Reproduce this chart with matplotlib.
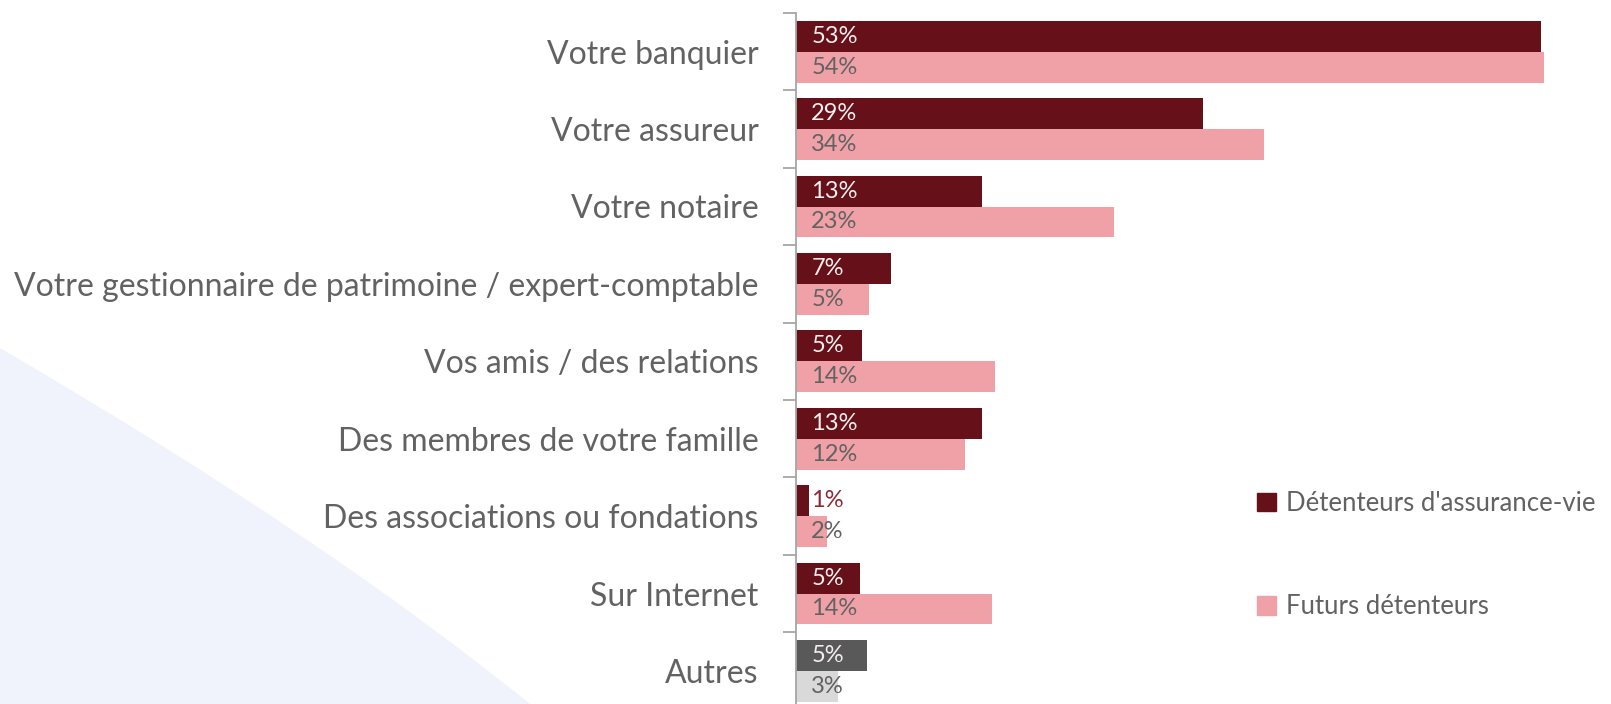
import numpy as np
import matplotlib
matplotlib.use("Agg")
import matplotlib.pyplot as plt
from matplotlib.patches import PathPatch, Patch
from matplotlib.path import Path

# Data
categories = [
    "Votre banquier",
    "Votre assureur",
    "Votre notaire",
    "Votre gestionnaire de patrimoine / expert-comptable",
    "Vos amis / des relations",
    "Des membres de votre famille",
    "Des associations ou fondations",
    "Sur Internet",
    "Autres",
]
holders = [53.2, 29.1, 13.3, 6.8, 4.7, 13.3, 0.95, 4.6, 5.1]
future = [53.4, 33.4, 22.7, 5.2, 14.2, 12.1, 2.2, 14.0, 3.0]
holders_labels = ["53%", "29%", "13%", "7%", "5%", "13%", "1%", "5%", "5%"]
future_labels = ["54%", "34%", "23%", "5%", "14%", "12%", "2%", "14%", "3%"]
series_names = ["Détenteurs d'assurance-vie", "Futurs détenteurs"]

DARK = "#66101a"
PINK = "#f0a1a8"
GREY_DARK = "#595959"
GREY_LIGHT = "#d9d9d9"
TEXT = "#626262"

plt.rcParams["font.family"] = ["Lato", "DejaVu Sans"]

W, H = 1611, 704
fig = plt.figure(figsize=(W / 100, H / 100), dpi=100)

# decorative background shape at lower left (figure pixels, y from top)
verts = [(0, 348), (330, 540), (540, 712), (0, 712), (0, 348)]
codes = [Path.MOVETO, Path.CURVE3, Path.CURVE3, Path.LINETO, Path.CLOSEPOLY]
verts = [(vx / W, 1 - vy / H) for vx, vy in verts]
fig.patches.append(PathPatch(Path(verts, codes), facecolor="#f0f3fb",
                             edgecolor="none", transform=fig.transFigure,
                             zorder=0))

band = 77.4
top = 13
ax_h = band * len(categories)
ax = fig.add_axes([796 / W, 1 - (top + ax_h) / H, 1 - 796 / W, ax_h / H])
ax.patch.set_alpha(0)

y = np.arange(len(categories))
h = 0.4
dark_cols = [DARK] * (len(categories) - 1) + [GREY_DARK]
pink_cols = [PINK] * (len(categories) - 1) + [GREY_LIGHT]
ax.barh(y - h / 2, holders, height=h, color=dark_cols, label=series_names[0])
ax.barh(y + h / 2, future, height=h, color=pink_cols, label=series_names[1])

for i in range(len(categories)):
    c1 = "#f4eeee" if holders[i] > 3 else "#8c2a36"
    ax.annotate(holders_labels[i], (0, y[i] - h / 2), xytext=(11, 0),
                textcoords="offset points", ha="left", va="center",
                fontsize=17, color=c1)
    ax.annotate(future_labels[i], (0, y[i] + h / 2), xytext=(11, 0),
                textcoords="offset points", ha="left", va="center",
                fontsize=17, color=TEXT)

ax.set_xlim(0, 815 / 14.0)
ax.set_ylim(len(categories) - 0.5, -0.5)
ax.set_yticks(y)
ax.set_yticklabels(categories, fontsize=23, color=TEXT)
ax.set_yticks(np.arange(len(categories) + 1) - 0.5, minor=True)
ax.tick_params(axis="y", which="major", length=0, pad=27)
ax.tick_params(axis="y", which="minor", length=9.5, width=1.3, color="#a6a6a6")
ax.set_xticks([])
for s in ["top", "right", "bottom"]:
    ax.spines[s].set_visible(False)
ax.spines["left"].set_color("#a6a6a6")
ax.spines["left"].set_linewidth(1.3)

handles = [Patch(color=DARK), Patch(color=PINK)]
leg = fig.legend(handles, series_names, loc="upper left",
                 bbox_to_anchor=(1257 / W, 1 - 491 / H), frameon=False,
                 fontsize=18.5, labelcolor=TEXT, handlelength=0.74,
                 handleheight=0.74, handletextpad=0.38, labelspacing=3.05,
                 borderpad=0, borderaxespad=0)

fig.savefig("out.png", dpi=100)
